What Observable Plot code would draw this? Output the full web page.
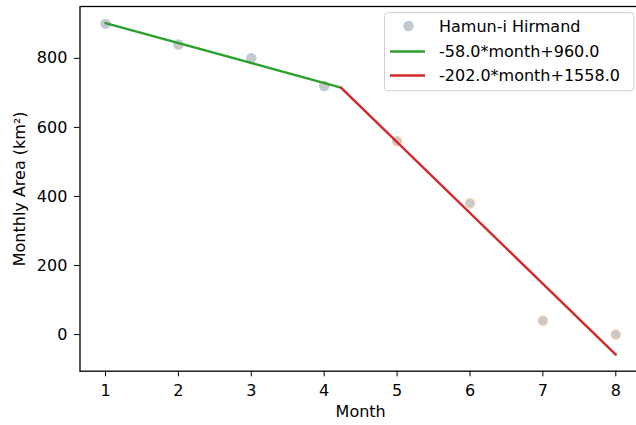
<!DOCTYPE html>
<html>
<head>
<meta charset="utf-8">
<script src="https://cdn.jsdelivr.net/npm/d3@7"></script>
<script src="https://cdn.jsdelivr.net/npm/@observablehq/plot@0.6"></script>
<style>
  html, body { margin: 0; padding: 0; background: #fff; overflow: hidden; }
  #chart { width: 636px; height: 425px; overflow: hidden; }
  #chart svg { max-width: none !important; display: block; }
</style>
</head>
<body>
<div id="chart"></div>
<script>
// ---- data ----
const months = [1, 2, 3, 4, 5, 6, 7, 8];
const areas = [900, 840, 800, 720, 560, 380, 40, 0];
const phase = ["early", "early", "early", "early", "late", "late", "late", "late"];
const greenX = [1, 4.23];
const greenY = [902, 715];
const redX = [4.23, 8];
const redY = [715, -58];
const xTicks = [1, 2, 3, 4, 5, 6, 7, 8];
const yTicks = [0, 200, 400, 600, 800];
const legendLabels = ["Hamun-i Hirmand", "-58.0*month+960.0", "-202.0*month+1558.0"];

const points = months.map((m, i) => ({month: m, area: areas[i], phase: phase[i]}));
const green = greenX.map((x, i) => ({x, y: greenY[i]}));
const red = redX.map((x, i) => ({x, y: redY[i]}));

const FONT = "DejaVu Sans";
const FS = 16;
const GREEN = "#2ca02c", RED = "#d62728";
const DOT_FILL = "#c8c8c8";
const edge = {early: "#b5cce0", late: "#f5cfad"};

const plot = Plot.plot({
  width: 660,
  height: 425,
  marginLeft: 79.5,
  marginRight: 19.2,
  marginTop: 6,
  marginBottom: 54.3,
  style: {fontFamily: FONT, fontSize: FS + "px", background: "#fff", color: "#000", maxWidth: "none"},
  x: {domain: [0.65, 8.35], ticks: xTicks, tickFormat: d3.format("d")},
  y: {domain: [-106, 950], ticks: yTicks, tickFormat: d3.format("d")},
  marks: [
    Plot.dot(points, {x: "month", y: "area", r: 4.6, fill: DOT_FILL, stroke: d => edge[d.phase], strokeWidth: 1.3}),
    Plot.line(green, {x: "x", y: "y", stroke: GREEN, strokeWidth: 2.4}),
    Plot.line(red, {x: "x", y: "y", stroke: RED, strokeWidth: 2.4}),
    Plot.frame({stroke: "#000", strokeWidth: 1.3}),
    Plot.axisX({ticks: xTicks, tickSize: 5.6, tickPadding: 7.8, label: null, fontSize: FS, tickFormat: d3.format("d")}),
    Plot.axisY({ticks: yTicks, tickSize: 5.6, tickPadding: 7, label: null, fontSize: FS, tickFormat: d3.format("d")}),
    Plot.text(["Month"], {frameAnchor: "bottom", dy: 41, lineAnchor: "middle", textAnchor: "middle", fontSize: FS}),
    Plot.text(["Monthly Area (km²)"], {frameAnchor: "left", dx: -60.5, rotate: -90, lineAnchor: "middle", textAnchor: "middle", fontSize: FS})
  ]
});

// ---- legend (matplotlib-like box, upper right) ----
const svg = d3.select(plot);
const lg = svg.append("g").attr("font-family", FONT).attr("font-size", FS).attr("text-anchor", "start");
lg.append("rect")
  .attr("x", 384.5).attr("y", 12.7).attr("width", 249.5).attr("height", 78)
  .attr("rx", 3).attr("fill", "#fff").attr("fill-opacity", 0.8)
  .attr("stroke", "#d0d0d0").attr("stroke-width", 1);
const rowsY = [26, 51.5, 75.5];
lg.append("circle").attr("cx", 408.5).attr("cy", rowsY[0]).attr("r", 4.6)
  .attr("fill", DOT_FILL).attr("stroke", edge.early).attr("stroke-width", 1.3);
lg.append("line").attr("x1", 390).attr("x2", 425).attr("y1", rowsY[1]).attr("y2", rowsY[1])
  .attr("stroke", GREEN).attr("stroke-width", 2.4);
lg.append("line").attr("x1", 390).attr("x2", 425).attr("y1", rowsY[2]).attr("y2", rowsY[2])
  .attr("stroke", RED).attr("stroke-width", 2.4);
legendLabels.forEach((t, i) => {
  lg.append("text").attr("x", 439).attr("y", rowsY[i]).attr("dy", "0.35em")
    .attr("text-anchor", "start").attr("fill", "#000").text(t);
});

document.getElementById("chart").append(plot);
</script>
</body>
</html>
